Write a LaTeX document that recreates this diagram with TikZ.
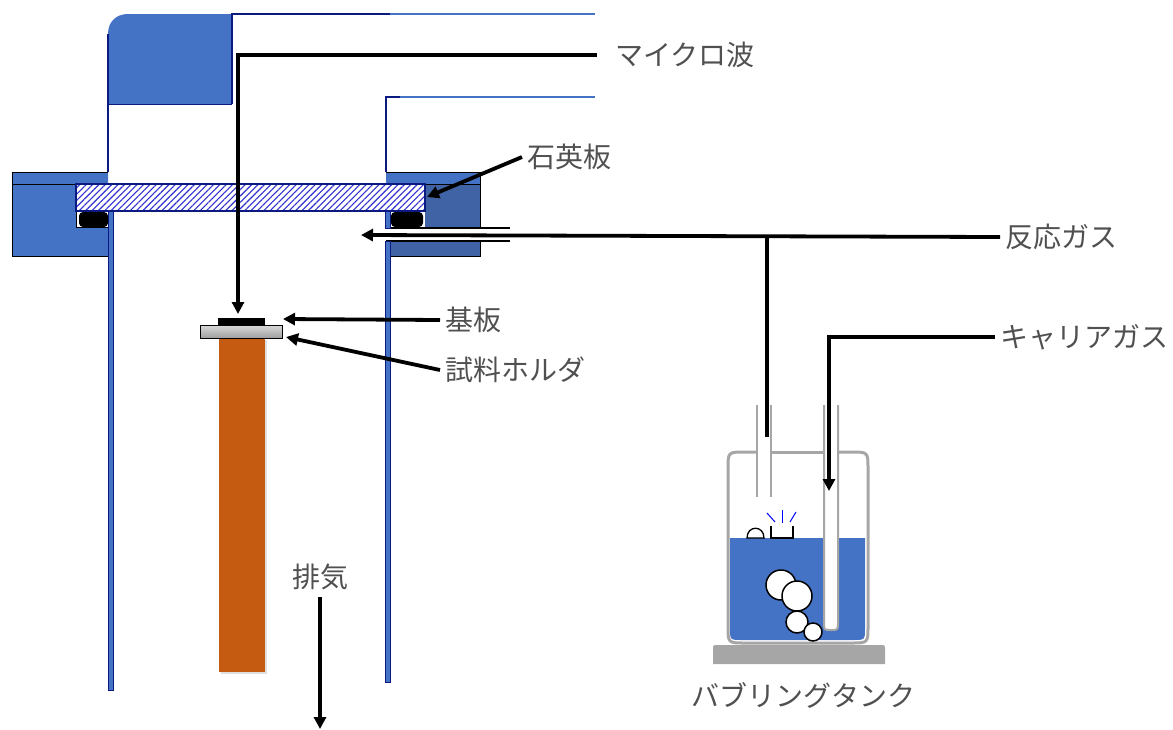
\documentclass[tikz,border=0pt]{standalone}
\usepackage{fontspec}
\newfontfamily\jp{Noto Sans CJK JP}
\usetikzlibrary{arrows.meta,patterns.meta,shadows}
\definecolor{wgblue}{HTML}{4472C4}
\definecolor{flangedark}{HTML}{4063A6}
\definecolor{navy}{HTML}{0A1A80}
\definecolor{rodorange}{HTML}{C55A11}
\definecolor{tankgray}{HTML}{A6A6A6}
\definecolor{txtgray}{HTML}{505050}
\definecolor{hatch}{HTML}{3030D0}

\begin{document}
\begin{tikzpicture}[x=1pt,y=-1pt,
  lbl/.style={font=\jp\fontsize{28}{32}\selectfont, text=txtgray, inner sep=0pt, outer xsep=5pt, anchor=west},
  pipe/.style={line width=3.8pt, black},
  arr/.style={pipe, -{Triangle[length=12pt,width=12pt]}},
  flange/.style={draw=black, line width=0.8pt},
  wall/.style={fill=wgblue, draw=navy, line width=0.8pt},
  oring/.style={fill=black, rounded corners=4pt},
  bubble/.style={fill=white, draw=black, line width=1.5pt},
  tank/.style={draw=tankgray, line width=3pt}]
\useasboundingbox (0,0) rectangle (1173,729);

% ---------------- waveguide ----------------
\fill[wgblue] (108,104) -- (108,34) .. controls (108,22) and (116,14) .. (128,14) -- (232,14) -- (232,104) -- cycle;
\draw[navy, line width=1pt] (108,104) -- (232,104);
\draw[navy, line width=2pt] (108,34) -- (108,172);
\draw[navy, line width=2pt] (232,104) -- (232,14) -- (390,14);
\draw[wgblue, line width=2pt] (390,14) -- (595,14);
\draw[navy, line width=2pt] (386,172) -- (386,97) -- (400,97);
\draw[wgblue, line width=2pt] (400,97) -- (595,97);

% ---------------- left flange ----------------
\fill[wgblue] (12,172) -- (108,172) -- (108,184) -- (76,184) -- (76,227) -- (108,227) -- (108,256) -- (12,256) -- cycle;
\draw[flange] (108,172) -- (12,172) -- (12,256) -- (108,256);
\draw[flange] (12,184) -- (76,184) -- (76,227) -- (108,227);

% ---------------- right flange ----------------
\fill[wgblue] (386,172) rectangle (480,184);
\fill[flangedark] (425,184) rectangle (480,228);
\fill[flangedark] (390,241) rectangle (480,256);
\draw[flange] (386,172) -- (480,172) -- (480,228);
\draw[flange] (386,184) -- (480,184);
\draw[flange] (480,241) -- (480,256) -- (390,256);
\draw[black, line width=1.2pt] (386,228) -- (510,228);
\draw[black, line width=1.2pt] (386,241) -- (510,241);

% ---------------- chamber walls ----------------
\draw[wall] (108,211) rectangle (113,690);
\draw[wall] (385,211) rectangle (390,228);
\draw[wall] (385,241) rectangle (390,682);

% ---------------- o-rings ----------------
\fill[oring] (79,212) rectangle (108,227);
\fill[oring] (391,212) rectangle (423,227);

% ---------------- quartz plate ----------------
\fill[white] (76,184) rectangle (425,211);
\fill[pattern={Lines[angle=45,distance=4.5pt,line width=1.1pt]}, pattern color=hatch] (76,184) rectangle (425,211);
\draw[navy, line width=1.3pt] (76,184) rectangle (425,211);

% ---------------- sample stage ----------------
\fill[rodorange, drop shadow={shadow xshift=2pt, shadow yshift=-2pt, opacity=0.25}] (219,338) rectangle (265,672);
\draw[black, line width=0.8pt, top color=gray!30, bottom color=gray!75] (200,325) rectangle (282,338);
\fill[black] (218,318) rectangle (265,325);

% ---------------- bubbling tank ----------------
\fill[tankgray] (713,650) .. controls (713,645) .. (718,645) -- (880,645) .. controls (885,645) .. (885,650) -- (885,664) -- (713,664) -- cycle;
\fill[wgblue] (730,538) -- (865,538) -- (865,628) .. controls (865,640) .. (853,640) -- (742,640) .. controls (730,640) .. (730,628) -- cycle;
% tank wall with the lid broken where the tubes pass
\draw[tank] (757,452) -- (745,452) .. controls (728,452) .. (728,469) -- (728,626) .. controls (728,643) .. (745,643) -- (851,643) .. controls (868,643) .. (868,626) -- (868,469) .. controls (868,452) .. (851,452) -- (838,452);
\draw[tank] (771,452) -- (824,452);
% gas outlet tube
\draw[tankgray, line width=2pt] (757,405) -- (757,497);
\draw[tankgray, line width=2pt] (771,405) -- (771,497);
% carrier gas dip tube
\fill[white] (824,405) -- (824,622) .. controls (824,630) .. (831,630) .. controls (838,630) .. (838,622) -- (838,405) -- cycle;
\draw[tankgray, line width=2pt] (824,405) -- (824,622) .. controls (824,630) .. (831,630) .. controls (838,630) .. (838,622) -- (838,405);
% bubbles
\draw[bubble] (781,585) circle (15);
\draw[bubble] (797,596) circle (15);
\draw[bubble] (797,622) circle (11);
\draw[bubble] (813,632) circle (9);
% bursting bubbles at the surface
\draw[black, line width=1.3pt, fill=white] (747,538) .. controls (747,525) and (764,525) .. (764,538) -- cycle;
\draw[black, line width=1.3pt] (771,526) -- (771,538) -- (793,538) -- (793,526);
\draw[blue, line width=1pt] (767,513) -- (775,522);
\draw[blue, line width=1pt] (782,510) -- (782,523);
\draw[blue, line width=1pt] (796,512) -- (790,522);

% ---------------- labels ----------------
\node[lbl] (mw) at (610,55) {マイクロ波};
\node[lbl] (quartz) at (522,157) {石英板};
\node[lbl] (sub) at (440,320) {基板};
\node[lbl] (holder) at (440,370) {試料ホルダ};
\node[lbl] (gas) at (1000,237) {反応ガス};
\node[lbl] (carrier) at (995,337) {キャリアガス};
\node[lbl, anchor=center] (exh) at (320,577) {排気};
\node[lbl, anchor=center] (tanklbl) at (803,695) {バブリングタンク};

% ---------------- connectors ----------------
\coordinate (mwbend) at (238,55);
\coordinate (subtop) at (238,314);
\coordinate (quartzend) at (427,197);
\coordinate (subend) at (283,319);
\coordinate (holderend) at (286,337);
\coordinate (gastip) at (361,235);
\coordinate (branch) at (767,235);
\coordinate (branchend) at (767,437);
\coordinate (carrierbend) at (829,337);
\coordinate (carrierend) at (829,491);
\coordinate (exhstart) at (320,597);
\coordinate (exhend) at (320,729);

\draw[arr, shorten <=13pt] (mw.west) -- (mwbend) -- (subtop);
\draw[arr] (quartz.west) -- (quartzend);
\draw[arr] (sub.west) -- (subend);
\draw[arr] (holder.west) -- (holderend);
\draw[arr] (gas.west) -- (gastip);
\draw[pipe] (branch) -- (branchend);
\draw[arr] (carrier.west) -- (carrierbend) -- (carrierend);
\draw[arr] (exhstart) -- (exhend);
\end{tikzpicture}
\end{document}
